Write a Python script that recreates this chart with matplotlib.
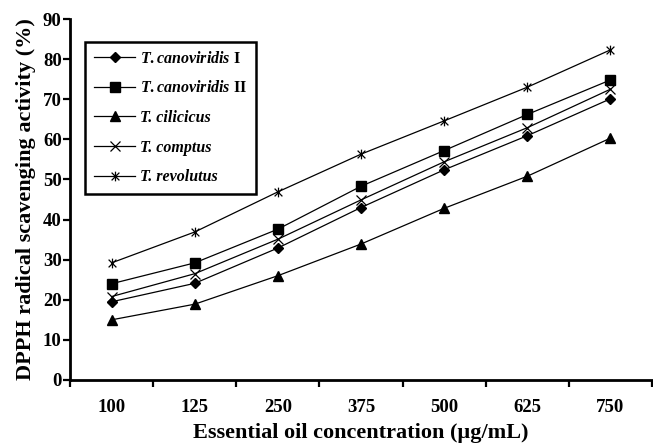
import numpy as np
import matplotlib
matplotlib.use("Agg")
import matplotlib.pyplot as plt
from matplotlib.path import Path

# ── Data ──────────────────────────────────────────────────────────────────────
concentrations = ["100", "125", "250", "375", "500", "625", "750"]

canoviridis_1 = [19.5, 24.1, 32.9, 43.0, 52.4, 60.9, 70.1]
canoviridis_2 = [24.0, 29.2, 37.6, 48.3, 57.2, 66.2, 74.8]
cilicicus     = [15.0, 18.9, 26.0, 33.9, 42.8, 50.8, 60.3]
comptus       = [20.8, 26.5, 35.1, 44.9, 54.4, 62.9, 72.5]
revolutus     = [29.2, 36.9, 46.9, 56.3, 64.6, 73.0, 82.3]

labels = [
    r"$\mathit{T.canoviridis}$ I",
    r"$\mathit{T.canoviridis}$ II",
    "T. cilicicus",
    "T. comptus",
    "T. revolutus",
]

# ── Style ─────────────────────────────────────────────────────────────────────
plt.rcParams["font.family"] = ["Liberation Serif", "DejaVu Serif"]
plt.rcParams["font.weight"] = "bold"
plt.rcParams["mathtext.fontset"] = "custom"
plt.rcParams["mathtext.it"] = "Liberation Serif:italic:bold"
plt.rcParams["mathtext.rm"] = "Liberation Serif:bold"
plt.rcParams["mathtext.bf"] = "Liberation Serif:bold"

# asterisk marker: x plus vertical bar
star = Path(
    [(-1, -1), (1, 1), (-1, 1), (1, -1), (0, -1.25), (0, 1.25)],
    [Path.MOVETO, Path.LINETO, Path.MOVETO, Path.LINETO, Path.MOVETO, Path.LINETO],
)

fig = plt.figure(figsize=(6.53, 4.43), dpi=100)
ax = fig.add_axes([70 / 653, 63 / 443, 582 / 653, 361 / 443])

x = np.arange(len(concentrations)) + 0.5
series = [
    (canoviridis_1, dict(marker="D", ms=5.5)),
    (canoviridis_2, dict(marker="s", ms=6.8)),
    (cilicicus,     dict(marker="^", ms=7.2)),
    (comptus,       dict(marker="x", ms=7, mew=0.9)),
    (revolutus,     dict(marker=star, ms=7, mew=0.9)),
]
for (vals, mk), lab in zip(series, labels):
    ax.plot(x, vals, color="black", lw=0.9, mfc="black", mec="black",
            label=lab, **mk)

ax.set_xlim(0, 7)
ax.set_ylim(0, 90)
ax.set_xticks(np.arange(0, 8))
ax.set_xticklabels([])
ax.set_xticks(x, minor=True)
ax.set_xticklabels(concentrations, minor=True)
ax.tick_params(axis="x", which="minor", length=0, pad=14, labelsize=13.5)
ax.tick_params(axis="x", which="major", length=5, width=1.6, direction="out")
ax.set_yticks(np.arange(0, 91, 10))
ax.tick_params(axis="y", length=5, width=1.6, direction="out", pad=1,
               labelsize=13.5)

for s in ["top", "right"]:
    ax.spines[s].set_visible(False)
for s in ["left", "bottom"]:
    ax.spines[s].set_linewidth(2.0)

ax.set_xlabel("Essential oil concentration (µg/mL)", fontsize=16,
              fontweight="bold", labelpad=5)
ax.set_ylabel("DPPH radical scavenging activity (%)", fontsize=16,
              fontweight="bold", labelpad=5)

leg = ax.legend(loc="upper left", bbox_to_anchor=(15 / 582, 338 / 361),
                fancybox=False, framealpha=1, edgecolor="black",
                prop={"family": "Liberation Serif", "weight": "bold", "size": 11.5},
                handlelength=2.6, handletextpad=0.3, labelspacing=0.85,
                borderpad=0.55, borderaxespad=0)
leg.get_frame().set_linewidth(1.8)
for t in leg.get_texts()[2:]:
    t.set_fontstyle("italic")

fig.savefig("out.png", dpi=100)
